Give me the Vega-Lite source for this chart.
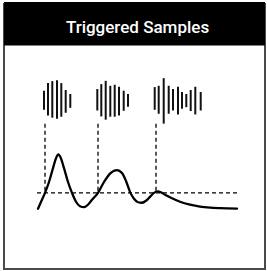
{
  "$schema": "https://vega.github.io/schema/vega-lite/v6.json",
  "autosize": {"type": "fit", "contains": "padding"},
  "width": 267,
  "height": 271,
  "padding": {"left": 4, "top": 1, "right": 2, "bottom": 2},
  "background": "white",
  "config": {"view": {"stroke": "#4a4a4a", "strokeWidth": 2}},
  "datasets": {
    "header": [{"x": 0, "x2": 261, "y": 226, "y2": 270, "label": "Triggered Samples", "tx": 133.5, "ty": 239}],
    "bursts": [
      {"burst": 1, "t": 40, "hi": 180.3, "lo": 161},
      {"burst": 1, "t": 44, "hi": 188, "lo": 155.3},
      {"burst": 1, "t": 48.3, "hi": 190, "lo": 153},
      {"burst": 1, "t": 53, "hi": 191, "lo": 152},
      {"burst": 1, "t": 57.3, "hi": 188, "lo": 154},
      {"burst": 1, "t": 61.7, "hi": 181, "lo": 158},
      {"burst": 1, "t": 66.3, "hi": 177, "lo": 163},
      {"burst": 2, "t": 93.3, "hi": 182, "lo": 160.3},
      {"burst": 2, "t": 97.3, "hi": 187, "lo": 154.3},
      {"burst": 2, "t": 101.7, "hi": 190.3, "lo": 151},
      {"burst": 2, "t": 106.3, "hi": 185.3, "lo": 154},
      {"burst": 2, "t": 110.7, "hi": 186.3, "lo": 154},
      {"burst": 2, "t": 115, "hi": 184.3, "lo": 155.3},
      {"burst": 2, "t": 119.7, "hi": 180.3, "lo": 160},
      {"burst": 2, "t": 124, "hi": 177, "lo": 164},
      {"burst": 3, "t": 150.7, "hi": 184, "lo": 161},
      {"burst": 3, "t": 154.7, "hi": 185.3, "lo": 157},
      {"burst": 3, "t": 159.7, "hi": 193, "lo": 147},
      {"burst": 3, "t": 164.7, "hi": 185.3, "lo": 157},
      {"burst": 3, "t": 169, "hi": 182, "lo": 160.3},
      {"burst": 3, "t": 174, "hi": 184.3, "lo": 156.3},
      {"burst": 3, "t": 178, "hi": 179, "lo": 162},
      {"burst": 3, "t": 182.3, "hi": 177, "lo": 163.7},
      {"burst": 3, "t": 186.7, "hi": 181, "lo": 159.7},
      {"burst": 3, "t": 191.3, "hi": 184.3, "lo": 156.3},
      {"burst": 3, "t": 196.7, "hi": 179, "lo": 160.3}
    ],
    "triggers": [
      {"t": 41, "top": 147, "bottom": 77},
      {"t": 94, "top": 147, "bottom": 77},
      {"t": 152, "top": 147, "bottom": 77}
    ],
    "threshold": [{"t": 33, "t2": 233, "v": 77}],
    "response": [
      {"t": 34, "v": 61},
      {"t": 37.5, "v": 69},
      {"t": 41, "v": 77},
      {"t": 45, "v": 88},
      {"t": 49, "v": 102},
      {"t": 52, "v": 112},
      {"t": 54.3, "v": 116},
      {"t": 56.5, "v": 113},
      {"t": 60, "v": 102},
      {"t": 64, "v": 88},
      {"t": 68, "v": 77},
      {"t": 72, "v": 68},
      {"t": 76, "v": 63.5},
      {"t": 80, "v": 62.5},
      {"t": 84, "v": 65},
      {"t": 88, "v": 70},
      {"t": 94, "v": 77},
      {"t": 100, "v": 88},
      {"t": 106, "v": 96.5},
      {"t": 113, "v": 100},
      {"t": 118, "v": 97},
      {"t": 122, "v": 89},
      {"t": 126, "v": 78},
      {"t": 130, "v": 71},
      {"t": 134, "v": 67.5},
      {"t": 138, "v": 67},
      {"t": 142, "v": 69},
      {"t": 146, "v": 73},
      {"t": 150, "v": 77},
      {"t": 153.5, "v": 78.5},
      {"t": 157, "v": 77.5},
      {"t": 162, "v": 74.5},
      {"t": 168, "v": 71.5},
      {"t": 176, "v": 68},
      {"t": 186, "v": 65},
      {"t": 196, "v": 63},
      {"t": 206, "v": 62},
      {"t": 216, "v": 61.5},
      {"t": 233, "v": 61}
    ]
  },
  "layer": [
    {
      "data": {"name": "header"},
      "mark": {"type": "rect", "color": "black", "clip": false},
      "encoding": {
        "x": {"field": "x", "type": "quantitative", "scale": {"domain": [0, 261], "nice": false, "zero": false}, "axis": null},
        "x2": {"field": "x2"},
        "y": {"field": "y", "type": "quantitative", "scale": {"domain": [0, 268], "nice": false, "zero": false}, "axis": null},
        "y2": {"field": "y2"}
      }
    },
    {
      "data": {"name": "header"},
      "mark": {"type": "text", "color": "white", "font": "Roboto", "fontSize": 17, "fontWeight": 500, "align": "center", "baseline": "alphabetic"},
      "encoding": {
        "x": {"field": "tx", "type": "quantitative", "scale": {"domain": [0, 261], "nice": false, "zero": false}, "axis": null},
        "y": {"field": "ty", "type": "quantitative", "scale": {"domain": [0, 268], "nice": false, "zero": false}, "axis": null},
        "text": {"field": "label"}
      }
    },
    {
      "data": {"name": "bursts"},
      "mark": {"type": "rule", "color": "#111111", "strokeWidth": 2},
      "encoding": {
        "x": {"field": "t", "type": "quantitative", "scale": {"domain": [0, 261], "nice": false, "zero": false}, "axis": null},
        "y": {"field": "lo", "type": "quantitative", "scale": {"domain": [0, 268], "nice": false, "zero": false}, "axis": null},
        "y2": {"field": "hi"}
      }
    },
    {
      "data": {"name": "triggers"},
      "mark": {"type": "rule", "color": "black", "strokeWidth": 1.3, "strokeDash": [4, 3]},
      "encoding": {
        "x": {"field": "t", "type": "quantitative", "scale": {"domain": [0, 261], "nice": false, "zero": false}, "axis": null},
        "y": {"field": "top", "type": "quantitative", "scale": {"domain": [0, 268], "nice": false, "zero": false}, "axis": null},
        "y2": {"field": "bottom"}
      }
    },
    {
      "data": {"name": "threshold"},
      "mark": {"type": "rule", "color": "black", "strokeWidth": 1.3, "strokeDash": [4, 3]},
      "encoding": {
        "x": {"field": "t", "type": "quantitative", "scale": {"domain": [0, 261], "nice": false, "zero": false}, "axis": null},
        "x2": {"field": "t2"},
        "y": {"field": "v", "type": "quantitative", "scale": {"domain": [0, 268], "nice": false, "zero": false}, "axis": null}
      }
    },
    {
      "data": {"name": "response"},
      "mark": {"type": "line", "color": "black", "strokeWidth": 2.3, "interpolate": "monotone", "strokeCap": "round"},
      "encoding": {
        "x": {"field": "t", "type": "quantitative", "scale": {"domain": [0, 261], "nice": false, "zero": false}, "axis": null},
        "y": {"field": "v", "type": "quantitative", "scale": {"domain": [0, 268], "nice": false, "zero": false}, "axis": null}
      }
    }
  ]
}
